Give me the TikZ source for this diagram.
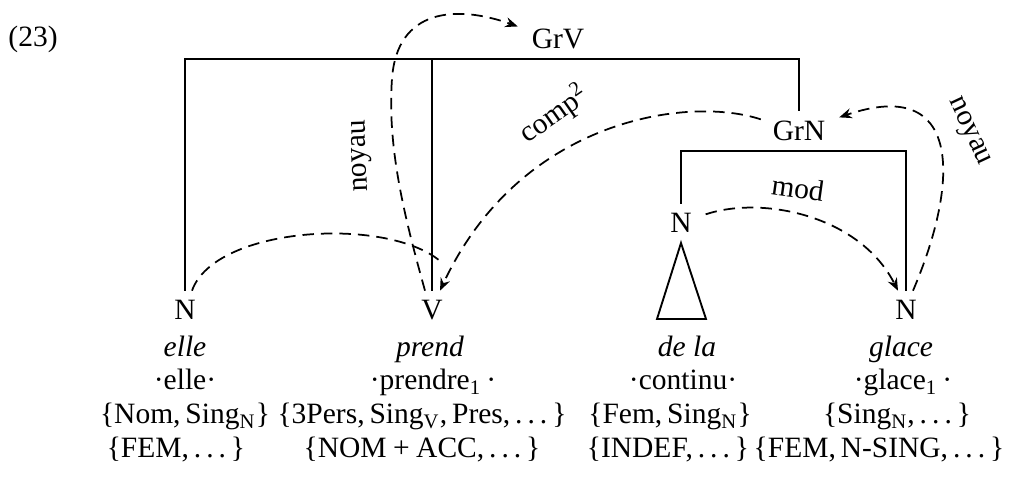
\documentclass[tikz,border=0pt]{standalone}
\usepackage{fontspec}
\setmainfont{Liberation Serif}
\usetikzlibrary{arrows.meta,calc}
\newcommand{\sbx}[1]{\textsubscript{#1}}
\newcommand{\mplus}{\kern0.22em+\kern0.22em}
\newcommand{\dotsx}{.\kern0.17em.\kern0.17em.}
\begin{document}
\begin{tikzpicture}[x=0.4pt,y=-0.4pt,
  font=\fontsize{11.8}{14}\selectfont,
  cat/.style={inner sep=3.8pt, anchor=base},
  txt/.style={inner sep=0pt, anchor=base},
  tree/.style={line width=0.75pt},
  dep/.style={line width=0.7pt, dash pattern=on 4.6pt off 2.8pt},
  tip/.style={-{Stealth[length=5pt,width=4pt]}},
  lab/.style={inner sep=1pt}]
\useasboundingbox (0,0) rectangle (1027,477);

% example number
\node[txt] (ex) at (33,47) {(23)};

% category nodes
\node[cat] (GrV) at (558,49) {GrV};
\node[cat] (GrN) at (799,141) {GrN};
\node[cat] (Nd) at (681,233) {N};
\node[cat] (Ne) at (185,320) {N};
\node[cat] (V) at (432,320) {V};
\node[cat] (Ng) at (906,320) {N};

% word forms
\node[txt] (w1) at (185,357) {\textit{elle}};
\node[txt] (w2) at (430,357) {\textit{prend}};
\node[txt] (w3) at (687,357) {\textit{de la}};
\node[txt] (w4) at (901,357) {\textit{glace}};

% lemmas
\node[txt] (l1) at (185,390) {·elle·};
\node[txt] (l2) at (433,390) {·prendre\sbx{1}\,·};
\node[txt] (l3) at (683,390) {·continu·};
\node[txt] (l4) at (903,390) {·glace\sbx{1}\,·};

% features
\node[txt] (f1) at (185,424) {\{Nom,\,Sing\sbx{N}\}};
\node[txt] (f2) at (422,424) {\{3Pers,\,Sing\sbx{V},\,Pres,\,\dotsx\,\}};
\node[txt] (f3) at (670,424) {\{Fem,\,Sing\sbx{N}\}};
\node[txt] (f4) at (897,424) {\{Sing\sbx{N},\,\dotsx\,\}};

\node[txt] (g1) at (176,458) {\{FEM,\,\dotsx\,\}};
\node[txt] (g2) at (422,458) {\{NOM\mplus ACC,\,\dotsx\,\}};
\node[txt] (g3) at (668,458) {\{INDEF,\,\dotsx\,\}};
\node[txt] (g4) at (879,458) {\{FEM,\,N-SING,\,\dotsx\,\}};

% tree lines
\draw[tree] (Ne.north) -- (Ne.north |- GrV.south) -- (GrN.north |- GrV.south) -- (GrN.north);
\draw[tree] (V.north) -- (V.north |- GrV.south);
\draw[tree] (Nd.north) -- (Nd.north |- GrN.south) -- (Ng.north |- GrN.south) -- (Ng.north);
\draw[tree] (Nd.south) -- ++(-24,76) -- ++(49,0) -- cycle;

% dependency arcs
\draw[dep,tip] ($(V.north)+(-7,0)$) .. controls +(-20,-72) and +(-5,70) .. ($(V.north)+(-40,-212)$)
  .. controls +(5,-70) and +(-62,-22) .. ($(GrV.north west)+(-4,7)$);
\draw[dep,tip] ($(GrN.west)+(-2,-12)$) .. controls +(-72,-24) and +(80,-172) .. ($(V.north)+(8,0)$);
\draw[dep,tip] ($(Ng.north)+(7,0)$) .. controls +(47,-110) and +(123,-42) .. ($(GrN.east)+(4,-14)$);
\draw[dep,tip] ($(Nd.east)+(4,-9)$) .. controls +(57,-19) and +(-38,-75) .. ($(Ng.north)+(-8,0)$);
\draw[dep] ($(Ne.north)+(7,0)$) .. controls +(23,-65) and +(-52,-47) .. ($(V.north)+(10,-28)$);

% arc labels
\node[lab, rotate=92] (a1) at (362,156) {noyau};
\node[lab, rotate=35] (a2) at (554,114) {comp\textsuperscript{2}};
\node[lab, rotate=-65] (a3) at (968,132) {noyau};
\node[lab, rotate=-8] (a4) at (798,188) {mod};
\end{tikzpicture}
\end{document}
